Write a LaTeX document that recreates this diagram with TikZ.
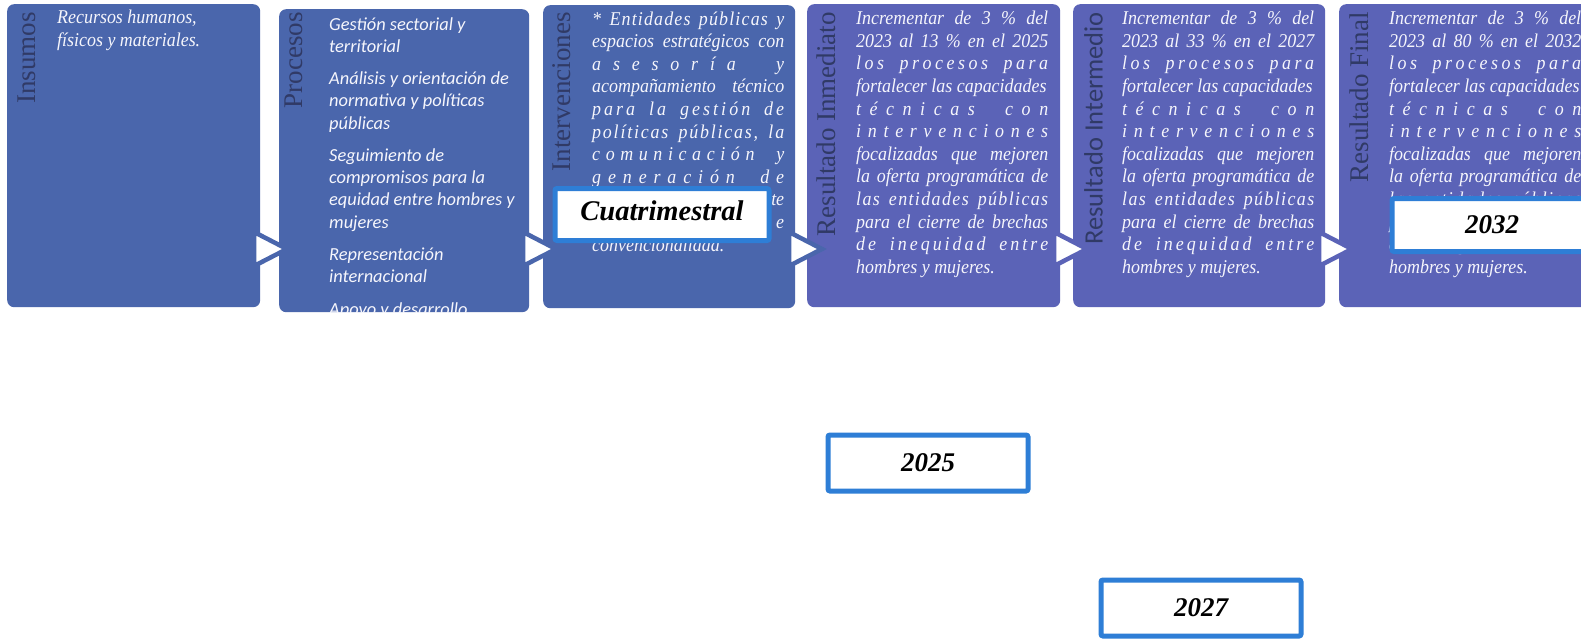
\documentclass[tikz,border=0pt]{standalone}
\usepackage{fontspec}
\setmainfont{Liberation Serif}
\newfontfamily\bookfont[FakeStretch=0.92]{Liberation Serif}
\newfontfamily\calibfont{Carlito}
\definecolor{boxA}{RGB}{74,102,172}
\definecolor{boxB}{RGB}{91,99,183}
\definecolor{ttlcol}{RGB}{48,58,102}
\definecolor{yrblue}{RGB}{46,126,214}
\definecolor{txtcol}{RGB}{246,246,252}
\newdimen\tw \tw=192pt
\newcommand\lnJ[1]{\hbox to\tw{#1}}
\newcommand\lnN[1]{\hbox{#1}}
\newcommand\lnR[1]{\hbox to\tw{\hfil #1}}
\def\lnS#1{\hbox to\tw{\lsB#1\relax}}
\def\lsB#1{#1\lsA}
\def\lsA#1{\ifx#1\relax\else\ifx#1|\hskip .25em plus 2fil\relax\else\hskip 0pt plus 1fil\relax#1\fi\expandafter\lsA\fi}
\newcommand\blk[2][22.6pt]{\vtop{\baselineskip=#1\lineskiplimit=-1000pt\lineskip=0pt #2}}
\tikzset{
  panel/.style={rectangle, draw=none, inner sep=0pt, rounded corners=7pt, anchor=north west},
  ttl/.style={inner sep=0pt, text=ttlcol, rotate=90, anchor=north east, font=\fontsize{27}{30}\selectfont},
  body/.style={inner sep=0pt, text=txtcol, anchor=base west, font=\bookfont\itshape\fontsize{19.5}{22.6}\selectfont},
  bodyc/.style={inner sep=0pt, text=txtcol, anchor=base west, font=\calibfont\itshape\fontsize{18.4}{22.3}\selectfont},
  tri/.style={fill=white, line width=4.5pt, line join=miter},
  yr/.style={rectangle, draw=yrblue, line width=5pt, fill=white, rounded corners=2pt, inner sep=0pt,
    minimum width=200pt, minimum height=56pt, font=\fontsize{27}{27}\selectfont\bfseries\itshape},
}
\begin{document}
\begin{tikzpicture}[x=1pt,y=-1pt]
\useasboundingbox (0,0) rectangle (1581,638);
\fill[white] (0,0) rectangle (1581,638);
% panels
\node[panel, fill=boxA, minimum width=253pt, minimum height=303pt] (b1) at (7,4) {};
\node[panel, fill=boxA, minimum width=250pt, minimum height=303pt] (b2) at (279,9) {};
\node[panel, fill=boxA, minimum width=252pt, minimum height=303pt] (b3) at (543,5) {};
\node[panel, fill=boxB, minimum width=253pt, minimum height=303pt] (b4) at (807,4) {};
\node[panel, fill=boxB, minimum width=252pt, minimum height=303pt] (b5) at (1073,4) {};
\node[panel, fill=boxB, minimum width=262pt, minimum height=303pt] (b6) at (1339,4) {};
% arrow triangles between panels
\foreach \r/\c in {260/boxA, 529/boxA, 795/boxA, 1060/boxB, 1325/boxB}
  \draw[tri, draw=\c] (\r-6,232) -- (\r-6,266) -- (\r+27,249) -- cycle;
% titles
\node[ttl] (h1) at (18,12) {Insumos};
\node[ttl] (h2) at (285,12) {Procesos};
\node[ttl] (h3) at (552,12) {Intervenciones};
\node[ttl] (h4) at (817,12) {Resultado Inmediato};
\node[ttl, font=\calibfont\fontsize{26.5}{30}\selectfont] (h5) at (1084,12) {Resultado Intermedio};
\node[ttl] (h6) at (1350,12) {Resultado Final};
% body texts
\node[body] (x1) at (57,23.5) {\blk{\lnN{Recursos humanos,}\lnN{físicos y materiales.}}};
\begin{scope}
\clip[rounded corners=7pt] (b2.north west) rectangle (b2.south east);
\node[bodyc] (x2) at (329,30) {\blk[22.3pt]{%
\lnN{Gestión sectorial y}\lnN{territorial}\vskip9.9pt
\lnN{Análisis y orientación de}\lnN{normativa y políticas}\lnN{públicas}\vskip9.9pt
\lnN{Seguimiento de}\lnN{compromisos para la}\lnN{equidad entre hombres y}\lnN{mujeres}\vskip9.9pt
\lnN{Representación}\lnN{internacional}\vskip10.8pt
\lnN{Apoyo y desarrollo}}};
\end{scope}
\node[body] (x3) at (592,25) {\blk{%
\lnS{*|Entidades|públicas|y}
\lnJ{espacios estratégicos con}
\lnS{asesoría|y}
\lnJ{acompañamiento técnico}
\lnS{para|la|gestión|de}
\lnS{políticas|públicas,|la}
\lnS{comunicación|y}
\lnS{generación|de}
\lnR{te}
\lnR{e}
\lnN{convencionalidad.}}};
\node[body] (x4) at (856,24.7) {\blk{%
\lnJ{Incrementar de 3 \% del}
\lnJ{2023 al 13 \% en el 2025}
\lnS{los|procesos|para}
\lnN{fortalecer las capacidades}
\lnS{técnicas|con}
\lnS{intervenciones}
\lnJ{focalizadas que mejoren}
\lnJ{la oferta programática de}
\lnS{las|entidades|públicas}
\lnJ{para el cierre de brechas}
\lnS{de|inequidad|entre}
\lnN{hombres y mujeres.}}};
\node[body] (x5) at (1122,24.7) {\blk{%
\lnJ{Incrementar de 3 \% del}
\lnJ{2023 al 33 \% en el 2027}
\lnS{los|procesos|para}
\lnN{fortalecer las capacidades}
\lnS{técnicas|con}
\lnS{intervenciones}
\lnJ{focalizadas que mejoren}
\lnJ{la oferta programática de}
\lnS{las|entidades|públicas}
\lnJ{para el cierre de brechas}
\lnS{de|inequidad|entre}
\lnN{hombres y mujeres.}}};
\node[body] (x6) at (1389,24.7) {\blk{%
\lnJ{Incrementar de 3 \% del}
\lnJ{2023 al 80 \% en el 2032}
\lnS{los|procesos|para}
\lnN{fortalecer las capacidades}
\lnS{técnicas|con}
\lnS{intervenciones}
\lnJ{focalizadas que mejoren}
\lnJ{la oferta programática de}
\lnS{las|entidades|públicas}
\lnJ{para el cierre de brechas}
\lnS{de|inequidad|entre}
\lnN{hombres y mujeres.}}};
% overlay labels
\node[yr, minimum width=214pt, minimum height=52pt, text depth=7pt, font=\fontsize{28.5}{28.5}\selectfont\bfseries\itshape] (cu) at (662,214.5) {Cuatrimestral};
\node[yr, minimum height=53pt] (y32) at (1492,225) {2032};
\node[yr] (y25) at (928,463) {2025};
\node[yr] (y27) at (1201,608) {2027};
\end{tikzpicture}
\end{document}
